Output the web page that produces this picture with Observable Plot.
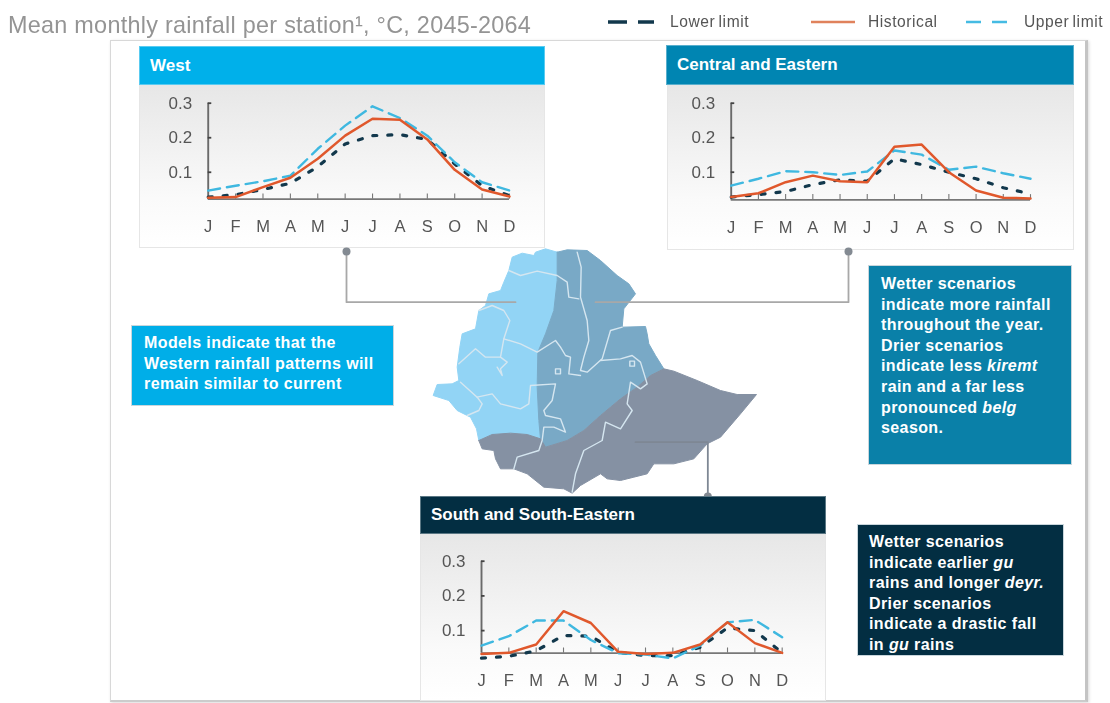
<!DOCTYPE html>
<html><head><meta charset="utf-8">
<script src="https://cdn.jsdelivr.net/npm/d3@7"></script>
<script src="https://cdn.jsdelivr.net/npm/@observablehq/plot@0.6"></script>
<style>
html,body{margin:0;padding:0;background:#fff;}
#page{position:relative;width:1110px;height:703px;overflow:hidden;font-family:"Liberation Sans",Arial,sans-serif;filter:blur(.45px);}
#page>*{position:absolute;box-sizing:border-box;}
#title{left:8px;top:11px;font-size:23.4px;letter-spacing:.27px;color:#949494;white-space:nowrap;line-height:28px;}
.lg{top:13px;height:18px;display:flex;align-items:center;font-size:15.6px;letter-spacing:.55px;color:#555;white-space:nowrap;word-spacing:-1.5px;}
#frame{left:110px;top:40px;width:978px;height:662px;border:1px solid #d8d8d8;border-right:3px solid #c4c4c4;border-bottom:2px solid #ccc;box-shadow:1px 1px 3px rgba(0,0,0,.15);}
.body{background:linear-gradient(#e7e7e7,#fafafa 70%,#fff);border:1px solid #e6e6e6;}
.head{color:#fff;font-weight:bold;font-size:17px;padding-left:10px;display:flex;align-items:center;border:1px solid rgba(255,255,255,.35);}
.note{color:#fff;font-weight:bold;font-size:16px;letter-spacing:.4px;line-height:20.6px;border:1px solid #c9d6dc;white-space:nowrap;}
.note i{font-style:italic;}
.chart svg{display:block;overflow:visible;background:transparent;}
</style></head><body>
<div id="page">
  <div id="title">Mean monthly rainfall per station¹, °C, 2045-2064</div>
  <div id="frame"></div>
  <div class="body" style="left:139px;top:85px;width:406px;height:163px"></div>
  <div class="body" style="left:667px;top:85px;width:407px;height:165px"></div>
  <div class="body" style="left:420px;top:534px;width:406px;height:167px"></div>
  <div id="map" class="chart" style="left:320px;top:240px"></div>
  <div class="head" style="left:139px;top:46px;width:406px;height:39px;background:#00b0ea">West</div>
  <div class="head" style="left:666px;top:45px;width:408px;height:40px;background:#0085b2">Central and Eastern</div>
  <div class="head" style="left:420px;top:496px;width:406px;height:38px;background:#032e42">South and South-Eastern</div>
  <div id="c0" class="chart" style="left:168px;top:93px"></div>
  <div id="c1" class="chart" style="left:691px;top:93px"></div>
  <div id="c2" class="chart" style="left:441px;top:551px"></div>
  <div class="note" style="left:131px;top:325px;width:263px;height:81px;background:#00aee8;padding:7px 0 0 12px">Models indicate that the<br>Western rainfall patterns will<br>remain similar to current</div>
  <div class="note" style="left:868px;top:265px;width:204px;height:200px;background:#0a80a8;padding:8px 0 0 12px">Wetter scenarios<br>indicate more rainfall<br>throughout the year.<br>Drier scenarios<br>indicate less <i>kiremt</i><br>rain and a far less<br>pronounced <i>belg</i><br>season.</div>
  <div class="note" style="left:857px;top:524px;width:207px;height:132px;background:#032e42;padding:7px 0 0 11px">Wetter scenarios<br>indicate earlier <i>gu</i><br>rains and longer <i>deyr.</i><br>Drier scenarios<br>indicate a drastic fall<br>in <i>gu</i> rains</div>
  <div class="lg" style="left:608px"><svg width="46" height="6" style="margin-right:16px"><line x1="0" x2="46" y1="3" y2="3" stroke="#12384c" stroke-width="3.4" stroke-dasharray="19 11"/></svg>Lower limit</div>
  <div class="lg" style="left:811px"><svg width="44" height="6" style="margin-right:13px"><line x1="0" x2="44" y1="3" y2="3" stroke="#e0825c" stroke-width="2.5"/></svg>Historical</div>
  <div class="lg" style="left:965px"><svg width="44" height="6" style="margin-right:15px"><line x1="1" x2="44" y1="3" y2="3" stroke="#45bbe3" stroke-width="2.5" stroke-dasharray="15 11"/></svg>Upper limit</div>
</div>
<script>
const months = ["J","F","M","A","M","J","J","A","S","O","N","D"];
const westHistorical = [.026,.028,.057,.084,.139,.206,.255,.252,.195,.107,.05,.03];
const westUpper      = [.047,.061,.074,.09,.168,.235,.291,.257,.206,.129,.071,.047];
const westLower      = [.028,.035,.05,.068,.116,.182,.206,.209,.195,.124,.061,.032];
const centralHistorical = [.028,.039,.071,.09,.074,.071,.174,.18,.1,.047,.026,.024];
const centralUpper      = [.061,.081,.103,.1,.092,.102,.163,.151,.107,.116,.097,.081];
const centralLower      = [.028,.035,.044,.064,.078,.074,.139,.122,.1,.081,.055,.037];
const southHistorical = [.033,.036,.06,.156,.122,.039,.033,.036,.06,.124,.064,.036];
const southUpper      = [.057,.084,.129,.129,.073,.035,.031,.02,.057,.124,.131,.081];
const southLower      = [.021,.026,.042,.086,.084,.037,.028,.028,.052,.108,.1,.036];

// Map outlines, in map grid units
const westRegion = [[410,35],[375,25],[345,35],[340,45],[305,38],[275,50],[265,90],[250,125],[240,150],[205,160],[195,195],[175,210],[165,265],[125,280],[118,320],[110,380],[115,420],[95,430],[50,432],[38,465],[85,480],[110,510],[150,530],[168,565],[175,600],[215,582],[270,578],[320,582],[360,595],[355,540],[350,440],[352,335],[375,280],[400,210],[410,120]];
const centralRegion = [[410,35],[440,28],[500,30],[540,60],[590,105],[625,130],[645,160],[610,205],[605,260],[675,258],[680,280],[685,310],[705,345],[730,385],[690,405],[650,440],[600,475],[540,525],[490,570],[440,600],[375,620],[362,610],[360,595],[355,540],[350,440],[352,335],[375,280],[400,210],[410,120]];
const southRegion = [[175,600],[215,582],[270,578],[320,582],[360,595],[375,620],[440,600],[490,570],[540,525],[600,475],[650,440],[690,405],[730,385],[760,392],[830,420],[900,450],[950,462],[1008,462],[960,520],[900,590],[860,610],[820,655],[760,670],[700,670],[680,700],[640,710],[600,720],[560,715],[540,700],[480,735],[455,758],[430,745],[370,740],[320,700],[280,685],[240,685],[225,655],[220,630],[185,625]];
const borders = [
 [[265,90],[300,105],[350,92],[410,105],[440,125],[445,170],[475,175]],
 [[470,35],[482,80],[480,170],[500,240],[505,300],[490,350],[480,390],[500,395],[545,355],[570,270],[605,260]],
 [[175,210],[215,195],[250,210],[268,240],[250,295],[300,310],[350,335],[405,300],[420,320],[435,345],[450,350],[445,400],[480,405]],
 [[250,295],[240,350],[260,365],[240,385],[245,405],[230,380]],
 [[115,370],[165,325],[195,350],[240,350]],
 [[120,425],[170,470],[185,490],[175,510],[140,525]],
 [[170,470],[215,460],[240,490],[300,505],[325,490],[330,435],[405,430],[395,480],[370,510],[375,525],[420,535],[435,575],[400,560],[370,560],[365,600],[355,630],[290,650],[280,685]],
 [[540,360],[600,355],[635,345],[660,365],[680,430],[660,445],[630,425],[620,490],[635,510],[600,565],[555,545],[545,600],[490,630],[465,700],[455,755]],
 [[405,385],[420,385],[420,400],[405,400],[405,385]],
 [[628,362],[642,362],[642,377],[628,377],[628,362]]
];
const leaderLines = [
 {name:"west",    points:[[-222,33],[-222,185],[285,185]], color:"#a8a8a8"},
 {name:"central", points:[[1284,33],[1284,185],[525,185]], color:"#a8a8a8"},
 {name:"south",   points:[[645,605],[862,605],[862,768]],  color:"#7e8794"}
];

const panels = [
 {id:"c0", hist:westHistorical, up:westUpper, low:westLower, y0:.022, w:301.3, h:96, ml:39.7, mt:9.7},
 {id:"c1", hist:centralHistorical, up:centralUpper, low:centralLower, y0:.02, w:299.3, h:96.6, ml:39.7, mt:9.7},
 {id:"c2", hist:southHistorical, up:southUpper, low:southLower, y0:.035, w:300.7, h:92, ml:40, mt:9.7}
];
const idx = d3.range(12);
for (const p of panels) {
  const rows = s => s.map((v,i)=>({i,v}));
  const fig = Plot.plot({
    width:p.ml+p.w+20, height:p.mt+p.h+42,
    marginLeft:p.ml, marginRight:20, marginTop:p.mt, marginBottom:42,
    style:{background:"transparent",overflow:"visible",fontFamily:"Liberation Sans, Arial, sans-serif"},
    x:{type:"linear",domain:[0,11],label:null},
    y:{type:"linear",domain:[p.y0,.3],label:null},
    marks:[
      Plot.axisX({ticks:idx,tickFormat:i=>months[i],tickSize:0,tickPadding:21,fontSize:16.5,fill:"#555",label:null}),
      Plot.axisY({ticks:[.1,.2,.3],tickFormat:".1f",tickSize:0,tickPadding:16,fontSize:17,fill:"#555",label:null}),
      Plot.ruleX([0],{y1:p.y0,y2:.3,stroke:"#6a6a6a",strokeWidth:1.9}),
      Plot.ruleY([p.y0],{x1:0,x2:11,stroke:"#777",strokeWidth:1.8}),
      Plot.ruleY([.1,.2,.3],{x1:0,x2:.13,stroke:"#444",strokeWidth:1.8}),
      Plot.ruleX(idx.slice(1),{y1:p.y0,y2:p.y0+.015,stroke:"#777",strokeWidth:1.1}),
      Plot.line(rows(p.low),{x:"i",y:"v",stroke:"#12384c",strokeWidth:3.2,strokeDasharray:"4 11",curve:"linear"}),
      Plot.line(rows(p.up),{x:"i",y:"v",stroke:"#3fb8e0",strokeWidth:2.4,strokeDasharray:"12 7",curve:"linear"}),
      Plot.line(rows(p.hist),{x:"i",y:"v",stroke:"#e0582c",strokeWidth:2.5,curve:"linear"})
    ]
  });
  document.getElementById(p.id).appendChild(fig);
}

const regionRows = (name,pts)=>pts.concat([pts[0]]).map(([x,y])=>({name,x,y}));
const borderRows = borders.flatMap((b,k)=>b.map(([x,y])=>({k,x,y})));
const mapFig = Plot.plot({
  width:550,height:270,margin:0,
  style:{background:"transparent",overflow:"visible"},
  x:{type:"linear",domain:[-300,1350],axis:null},
  y:{type:"linear",domain:[810,0],axis:null},
  marks:[
    ...[["west",westRegion,"#92d4f5"],["central",centralRegion,"#79a9c6"],["south",southRegion,"#8591a3"]].map(([n,r,c])=>
      Plot.line(regionRows(n,r),{x:"x",y:"y",fill:c,stroke:c,strokeWidth:1,curve:"linear"})),
    Plot.line(borderRows,{x:"x",y:"y",z:"k",stroke:"#d5e6f0",strokeWidth:1.4,curve:"linear"}),
    ...leaderLines.map(l=>Plot.line(l.points.map(([x,y])=>({x,y})),{x:"x",y:"y",stroke:l.color,strokeWidth:1.8,curve:"linear"})),
    Plot.dot(leaderLines.slice(0,2).map(l=>l.points[0]).concat([leaderLines[2].points[2]]),{x:d=>d[0],y:d=>d[1],r:4,fill:"#838a92"})
  ]
});
document.getElementById("map").appendChild(mapFig);
</script>
</body></html>
